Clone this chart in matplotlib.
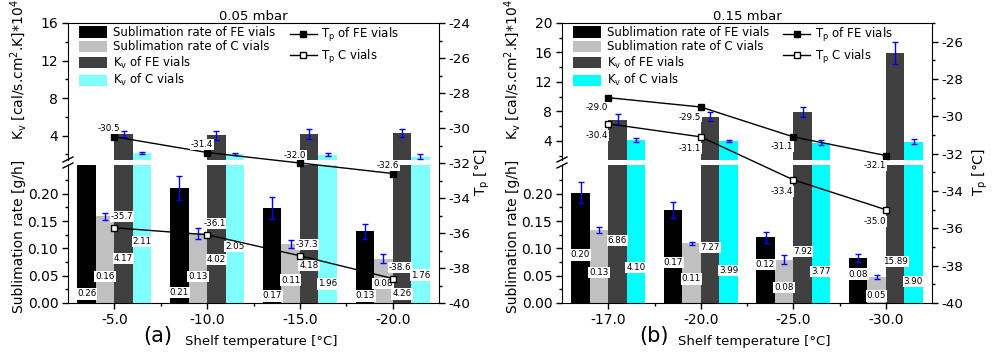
import numpy as np
import matplotlib
matplotlib.use('Agg')
import matplotlib.pyplot as plt
from matplotlib.ticker import MultipleLocator, FixedLocator, FormatStrFormatter
from matplotlib.patches import Patch
from matplotlib.lines import Line2D

plt.rcParams['font.family'] = 'DejaVu Sans'
plt.rcParams['mathtext.default'] = 'regular'
plt.rcParams['axes.unicode_minus'] = False

# ---- data, panel (a) 0.05 mbar
shelf_a = ['-5.0', '-10.0', '-15.0', '-20.0']
sub_fe_a = [0.264, 0.211, 0.174, 0.131]
sub_fe_err_a = [0.01, 0.022, 0.02, 0.013]
sub_c_a = [0.159, 0.128, 0.108, 0.081]
sub_c_err_a = [0.0065, 0.01, 0.007, 0.008]
kv_fe_a = [4.17, 4.02, 4.18, 4.26]
kv_fe_err_a = [0.37, 0.45, 0.5, 0.43]
kv_c_a = [2.11, 2.05, 1.96, 1.76]
kv_c_err_a = [0.1, 0.1, 0.18, 0.25]
tp_fe_a = [-30.5, -31.4, -32.0, -32.6]
tp_c_a = [-35.7, -36.1, -37.3, -38.6]

# ---- data, panel (b) 0.15 mbar
shelf_b = ['-17.0', '-20.0', '-25.0', '-30.0']
sub_fe_b = [0.202, 0.170, 0.120, 0.082]
sub_fe_err_b = [0.019, 0.015, 0.01, 0.0075]
sub_c_b = [0.134, 0.109, 0.079, 0.048]
sub_c_err_b = [0.0055, 0.0035, 0.0085, 0.0035]
kv_fe_b = [6.86, 7.27, 7.92, 15.89]
kv_fe_err_b = [0.73, 0.61, 0.72, 1.5]
kv_c_b = [4.10, 3.99, 3.77, 3.90]
kv_c_err_b = [0.3, 0.15, 0.4, 0.3]
tp_fe_b = [-29.0, -29.5, -31.1, -32.1]
tp_c_b = [-30.4, -31.1, -33.4, -35.0]

# heights of the value boxes inside the bars (lower axis units), layout only
lab_y_a = [[0.0165, 0.019, 0.013, 0.013],
           [0.048, 0.048, 0.042, 0.036],
           [0.081, 0.080, 0.068, 0.0165],
           [0.112, 0.103, 0.035, 0.051]]
lab_y_b = [[0.088, 0.074, 0.070, 0.053],
           [0.0555, 0.044, 0.029, 0.013],
           [0.114, 0.102, 0.094, 0.076],
           [0.065, 0.060, 0.057, 0.039]]

W, H = 998, 352
fig = plt.figure(figsize=(W / 100, H / 100), dpi=100)


def box(x0, y0, x1, y1):
    return [x0 / W, 1 - y1 / H, (x1 - x0) / W, (y1 - y0) / H]


def px(v):
    return v * 0.72


offs = [-0.3, -0.1, 0.1, 0.3]
labels = ['Sublimation rate of FE vials', 'Sublimation rate of C vials',
          'K$_v$ of FE vials', 'K$_v$ of C vials']


def panel(x0, x1, cats, series, errs, tp_fe, tp_c, kv_top, tp_top, lab_y,
          cyan, title, tag, tag_x, xl_x, tp_lab_dx, fe_off, c_off, fe_ha, c_ha):
    ax_hi = fig.add_axes(box(x0, 23, x1, 160))
    ax_lo = fig.add_axes(box(x0, 165, x1, 303))
    ax_tp = fig.add_axes(box(x0, 23, x1, 303))
    colors = ['black', '#c0c0c0', '#404040', cyan]
    x = np.arange(len(cats))

    for k in range(4):
        for ax in (ax_hi, ax_lo):
            ax.bar(x + offs[k], series[k], width=0.2, color=colors[k], zorder=2)
            ax.errorbar(x + offs[k], series[k], yerr=errs[k], fmt='none',
                        ecolor='blue', elinewidth=1, capsize=2.2, capthick=1, zorder=3)
        for i, v in enumerate(series[k]):
            ax_lo.text(x[i] + offs[k], lab_y[k][i], f"{v:.2f}", ha='center', va='center',
                       fontsize=6.3, zorder=5,
                       bbox=dict(facecolor='white', edgecolor='none', pad=0.8))

    for ax in (ax_hi, ax_lo):
        ax.set_xlim(-0.5, 3.5)
        ax.patch.set_visible(False)
        for s in ('top', 'right'):
            ax.spines[s].set_visible(False)
        ax.tick_params(direction='out', length=4, width=1, labelsize=10, pad=3)
        ax.tick_params(which='minor', direction='out', length=2, width=1)

    ax_hi.spines['bottom'].set_visible(False)
    ax_hi.set_xticks([])
    ax_hi.set_ylim(1.4, kv_top)
    ax_hi.yaxis.set_major_locator(MultipleLocator(4))
    ax_hi.yaxis.set_minor_locator(MultipleLocator(2))

    ax_lo.set_ylim(0, 0.2525)
    ax_lo.yaxis.set_major_locator(FixedLocator([0, 0.05, 0.10, 0.15, 0.20]))
    ax_lo.yaxis.set_minor_locator(FixedLocator([0.025, 0.075, 0.125, 0.175, 0.225]))
    ax_lo.yaxis.set_major_formatter(FormatStrFormatter('%.2f'))
    ax_lo.set_xticks(x)
    ax_lo.set_xticklabels(cats)
    ax_lo.set_xticks(x[:-1] + 0.5, minor=True)

    # temperature axis on the right
    ax_tp.patch.set_visible(False)
    l1, = ax_tp.plot(x, tp_fe, '-s', color='black', mfc='black', ms=4.5, lw=1, zorder=4)
    l2, = ax_tp.plot(x, tp_c, '-s', color='black', mfc='white', ms=4.5, lw=1, zorder=4)
    for i in range(len(x)):
        ax_tp.annotate(f"{tp_fe[i]:.1f}", (x[i], tp_fe[i]), xytext=fe_off, textcoords='offset points',
                       ha=fe_ha, va='center', fontsize=6.3, zorder=6,
                       bbox=dict(facecolor='white', edgecolor='none', pad=0.6))
        ax_tp.annotate(f"{tp_c[i]:.1f}", (x[i], tp_c[i]), xytext=c_off, textcoords='offset points',
                       ha=c_ha, va='center', fontsize=6.3, zorder=6,
                       bbox=dict(facecolor='white', edgecolor='none', pad=0.6))
    ax_tp.set_xlim(-0.5, 3.5)
    ax_tp.set_ylim(-40, tp_top)
    ax_tp.set_xticks([])
    ax_tp.yaxis.tick_right()
    ax_tp.yaxis.set_major_locator(MultipleLocator(2))
    ax_tp.yaxis.set_minor_locator(MultipleLocator(1))
    ax_tp.yaxis.set_major_formatter(FormatStrFormatter('%d'))
    ax_tp.spines['left'].set_visible(False)
    ax_tp.spines['bottom'].set_visible(False)
    ax_tp.tick_params(direction='out', length=4, width=1, labelsize=9.7, pad=2.5)
    ax_tp.tick_params(which='minor', direction='out', length=2, width=1)
    ax_tp.set_title(title, fontsize=9.5, pad=2)

    # legends
    wpx, hpx = x1 - x0, 280
    hnd = [Patch(facecolor=c, edgecolor='none') for c in colors]
    leg1 = ax_tp.legend(hnd, labels, loc='upper left', bbox_to_anchor=(11 / wpx, 1 - 3 / hpx),
                        frameon=False, fontsize=8.5, borderpad=0, borderaxespad=0,
                        handlelength=2.4, handleheight=1.1, handletextpad=0.45, labelspacing=0.12)
    ax_tp.add_artist(leg1)
    ax_tp.legend([l1, l2], ['T$_p$ of FE vials', 'T$_p$ C vials'], loc='upper left',
                 bbox_to_anchor=(0.598, 1 - 3 / hpx), frameon=False, fontsize=8.5,
                 borderpad=0, borderaxespad=0, handlelength=2.3, handletextpad=0.35,
                 labelspacing=0.3)

    # axis break marks
    for yc in (159.5, 165.5):
        fig.add_artist(Line2D([(x0 - 5) / W, (x0 + 5) / W],
                              [1 - (yc + 2.5) / H, 1 - (yc - 2.5) / H],
                              transform=fig.transFigure, color='black', lw=1))

    # axis titles
    fig.text((x0 - 49) / W, 1 - 70 / H, 'K$_v$ [cal/s.cm$^2$.K]*10$^4$', rotation=90,
             ha='center', va='center', fontsize=10)
    fig.text((x0 - 49) / W, 1 - 236 / H, 'Sublimation rate [g/h]', rotation=90,
             ha='center', va='center', fontsize=10)
    fig.text((x1 + tp_lab_dx) / W, 1 - 172 / H, 'T$_p$ [°C]', rotation=90,
             ha='center', va='center', fontsize=10)
    fig.text(tag_x / W, 1 - 336 / H, tag, ha='center', va='center', fontsize=15)
    fig.text(xl_x / W, 1 - 342 / H, 'Shelf temperature [°C]', ha='left', va='center',
             fontsize=9.5)


panel(68, 439, shelf_a,
      [sub_fe_a, sub_c_a, kv_fe_a, kv_c_a],
      [sub_fe_err_a, sub_c_err_a, kv_fe_err_a, kv_c_err_a],
      tp_fe_a, tp_c_a, 16, -24, lab_y_a, '#80ffff', '0.05 mbar', '(a)', 158, 185, 43,
      (px(6), px(8)), (px(-4), px(11)), 'right', 'left')

panel(562, 932, shelf_b,
      [sub_fe_b, sub_c_b, kv_fe_b, kv_c_b],
      [sub_fe_err_b, sub_c_err_b, kv_fe_err_b, kv_c_err_b],
      tp_fe_b, tp_c_b, 20, -25, lab_y_b, '#00ffff', '0.15 mbar', '(b)', 654, 678, 48,
      (px(0), px(-10)), (px(0), px(-12)), 'right', 'right')

fig.savefig('out.png', dpi=100)
